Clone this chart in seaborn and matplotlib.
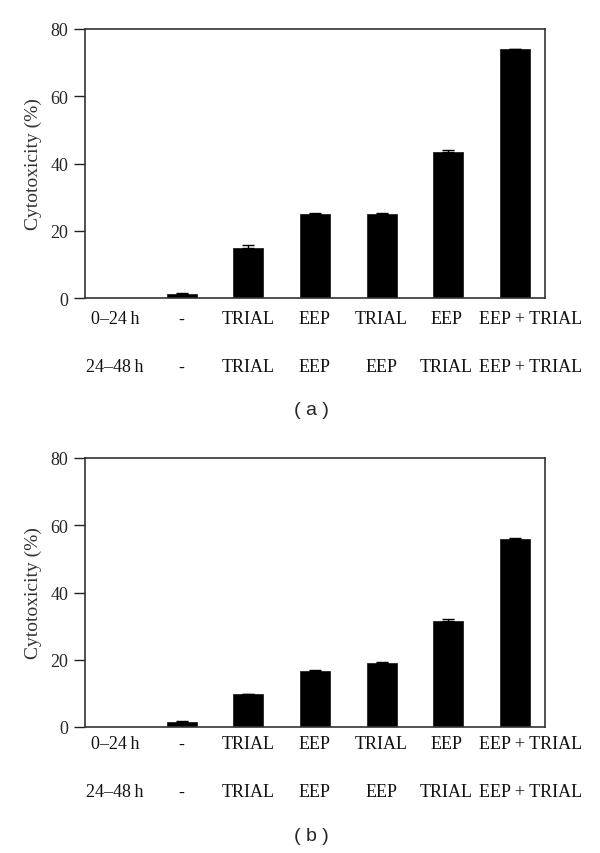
import numpy as np
import pandas as pd
import matplotlib
matplotlib.use('Agg')
import matplotlib.pyplot as plt
import matplotlib.transforms as mtransforms
import seaborn as sns

# Treatment schedule (two label rows under each bar)
row_0_24 = ['0\u201324\u2009h', '-', 'TRIAL', 'EEP', 'TRIAL', 'EEP', 'EEP + TRIAL']
row_24_48 = ['24\u201348\u2009h', '-', 'TRIAL', 'EEP', 'EEP', 'TRIAL', 'EEP + TRIAL']

# Cytotoxicity (%) and error bars, panel (a) and (b)
cyto_a = [0.0, 1.3, 15.0, 25.0, 25.0, 43.5, 74.0]
err_a = [0.0, 0.1, 0.7, 0.2, 0.4, 0.5, 0.2]
cyto_b = [0.0, 1.4, 9.7, 16.7, 18.9, 31.6, 56.0]
err_b = [0.0, 0.3, 0.2, 0.3, 0.4, 0.5, 0.3]

yticks = [0, 20, 40, 60, 80]
panel_tags = ['( a )', '( b )']

sns.set_theme(style='white')
plt.rcParams['font.family'] = ['Liberation Serif', 'DejaVu Serif']

fig = plt.figure(figsize=(6.0, 8.54), dpi=100)
W, H = 600.0, 854.0

# axes boxes in pixels: (left, top, right, bottom)
boxes = [(85, 30, 545, 299), (85, 459, 545, 728)]
row1_y = [320, 745]
row2_y = [368, 793]
tag_y = [411, 837]
# small nudges so the wide last label sits like in the original
label_shift = [0, 0, 0, 0, 0, -0.03, 0.24]

slots = [f'{a}|{b}' for a, b in zip(row_0_24, row_24_48)]

for k, (vals, errs) in enumerate([(cyto_a, err_a), (cyto_b, err_b)]):
    l, t, r, b = boxes[k]
    ax = fig.add_axes([l / W, 1 - b / H, (r - l) / W, (b - t) / H])
    df = pd.DataFrame({'slot': slots, 'cyto': vals, 'err': errs})
    sns.barplot(data=df, x='slot', y='cyto', order=slots, color='black',
                saturation=1, width=0.45, errorbar=None, ax=ax)
    for p in ax.patches:
        p.set_edgecolor('#222222')
        p.set_linewidth(0.6)
    # error bars (upper cap only) from the same data
    mask = df['err'] > 0
    xs = np.arange(len(slots))[mask.values]
    ax.errorbar(xs, df['cyto'][mask], yerr=[np.zeros(mask.sum()), df['err'][mask]],
                fmt='none', ecolor='black', elinewidth=1.0, capsize=4, capthick=1.0)

    ax.set_xlim(-0.45, 6.45)
    ax.set_ylim(0, 80)
    ax.set_yticks(yticks)
    ax.set_yticklabels([str(v) for v in yticks], fontsize=13)
    ax.tick_params(axis='y', direction='out', length=8, width=1.0, pad=4, left=True, color='#222222')
    ax.tick_params(axis='x', length=0)
    ax.set_xticks(range(len(slots)))
    ax.set_xticklabels([])
    ax.set_xlabel('')
    ax.set_ylabel('Cytotoxicity (%)', fontsize=14, color='#333333', labelpad=6)
    for s in ax.spines.values():
        s.set_color('#333333')
        s.set_linewidth(1.2)
        s.set_visible(True)

    # two rows of schedule labels
    trans = mtransforms.blended_transform_factory(ax.transData, fig.transFigure)
    for i in range(len(slots)):
        ax.text(i + label_shift[i], 1 - row1_y[k] / H, row_0_24[i], transform=trans,
                ha='center', va='center', fontsize=13, color='#111111')
        ax.text(i + label_shift[i], 1 - row2_y[k] / H, row_24_48[i], transform=trans,
                ha='center', va='center', fontsize=13, color='#111111')

    fig.text(311 / W, 1 - tag_y[k] / H, panel_tags[k], ha='center', va='center',
             fontsize=14, family=['Liberation Sans', 'DejaVu Sans'])

fig.savefig('out.png', dpi=100, facecolor='white')
